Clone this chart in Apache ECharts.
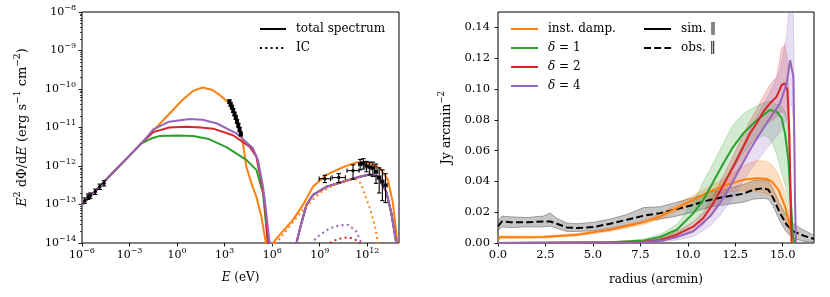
<!DOCTYPE html>
<html><head><meta charset="utf-8">
<script src="https://cdn.jsdelivr.net/npm/echarts@6/dist/echarts.min.js"></script>
<style>html,body{margin:0;padding:0;background:#fff}#c{width:830px;height:297px}</style>
</head><body><div id="c"></div>
<script>
// ===================== LEFT PANEL DATA (log10 of E [eV] and of E^2 dPhi/dE) =====================
const xMajorExp = [-6, -3, 0, 3, 6, 9, 12];
const yMajorExp = [-14, -13, -12, -11, -10, -9, -8];
const yMinorMant = [2, 3, 4, 5, 6, 7, 8, 9];

// shared low-energy synchrotron power law
const sharedLogE = [-6, -5, -4, -3, -2.25];
const sharedLogF = [-13.01, -12.58, -12.15, -11.73, -11.41];

const orangeSynLogE = [-1.5, -0.5, 0.3, 1.0, 1.6, 2.2, 2.7, 3.3, 3.7, 4.06, 4.2, 4.37, 4.69, 5.0, 5.32, 5.6, 5.8];
const orangeSynLogF = [-11.08, -10.65, -10.3, -10.05, -9.96, -10.02, -10.16, -10.37, -10.7, -11.19, -11.55, -12.02, -12.45, -12.8, -13.32, -14.0, -15];
const greenSynLogE = [-1.6, -1.1, 0, 1, 2, 3.11, 4.37, 5.0, 5.42, 5.73, 5.85];
const greenSynLogF = [-11.28, -11.22, -11.21, -11.22, -11.3, -11.51, -11.84, -12.1, -12.71, -14.0, -15];
const redSynLogE = [-1.5, -0.5, 0.6, 1.5, 2.27, 3.53, 4.58, 5.0, 5.21, 5.52, 5.73, 5.85];
const redSynLogF = [-11.12, -11.0, -10.98, -11.0, -11.03, -11.2, -11.5, -11.76, -12.19, -12.9, -14.0, -15];
const purpleSynLogE = [-1.5, -0.5, 0.8, 1.6, 2.48, 3.74, 4.79, 5.1, 5.42, 5.63, 5.84, 5.95];
const purpleSynLogF = [-11.05, -10.85, -10.78, -10.8, -10.89, -11.15, -11.54, -11.84, -12.54, -13.24, -14.0, -15];

// gamma-ray bump (total spectrum)
const orangeGamLogE = [5.9, 6.05, 6.47, 7.31, 7.94, 8.57, 9.42, 10.47, 11.31, 11.73, 12.15, 12.78, 13.3, 13.62, 13.83, 14.0];
const orangeGamLogF = [-15, -14, -13.79, -13.4, -13.01, -12.54, -12.23, -12.03, -11.91, -11.9, -11.92, -12.05, -12.36, -12.97, -13.75, -14.5];
const deltaGamLogE = [7.4, 7.53, 7.84, 8.16, 8.57, 9.42, 10.47, 11.52, 12.15, 12.68, 13.2, 13.52, 13.83, 14.0];
const deltaGamLogF = [-15, -14, -13.49, -13.01, -12.75, -12.54, -12.41, -12.28, -12.22, -12.28, -12.67, -13.23, -14.0, -14.6];

// IC components (dotted)
const orangeICLogE = [6.1, 6.26, 7.0, 8.0, 9.0, 10.0, 10.8, 11.3, 11.6, 11.9, 12.2, 12.5, 12.68, 12.8];
const orangeICLogF = [-15, -14, -13.62, -13.1, -12.7, -12.47, -12.36, -12.35, -12.45, -12.8, -13.15, -13.6, -14, -14.5];
const purpleICLogE = [8.3, 8.47, 9.0, 9.63, 10.26, 10.8, 11.31, 11.63, 11.8];
const purpleICLogF = [-14.3, -14, -13.79, -13.62, -13.54, -13.53, -13.7, -14, -14.3];
const redICLogE = [9.2, 9.43, 9.9, 10.4, 10.8, 11.2, 11.54, 11.7];
const redICLogF = [-14.2, -14.05, -13.94, -13.87, -13.85, -13.9, -14.02, -14.2];

// observed points (log10), errors in dex
const radioLogE = [-5.83, -5.62, -5.47, -5.16, -4.88, -4.61];
const radioLogF = [-12.9, -12.8, -12.77, -12.67, -12.54, -12.45];
const radioErr = [0.07, 0.07, 0.07, 0.07, 0.07, 0.07];
const xrayLogE = [3.30, 3.38, 3.46, 3.54, 3.62, 3.70, 3.78, 3.86, 3.94, 4.02];
const xrayLogF = [-10.33, -10.40, -10.47, -10.56, -10.65, -10.74, -10.84, -10.94, -11.05, -11.17];
const xrayErr = [0.05, 0.05, 0.05, 0.05, 0.05, 0.05, 0.05, 0.05, 0.05, 0.05];
const gamLogE = [9.32, 10.2, 11.1, 11.55, 11.75, 11.95, 12.15, 12.35, 12.55, 12.75, 12.95, 13.15];
const gamLogF = [-12.33, -12.3, -12.12, -11.95, -11.93, -12.0, -12.03, -12.05, -12.15, -12.3, -12.4, -12.5];
const gamErrLo = [0.1, 0.13, 0.22, 0.15, 0.15, 0.15, 0.2, 0.22, 0.3, 0.4, 0.5, 0.45];
const gamErrHi = [0.09, 0.1, 0.15, 0.12, 0.12, 0.12, 0.13, 0.15, 0.2, 0.25, 0.3, 0.3];
const gamErrE = [0.36, 0.42, 0.38, 0.1, 0.1, 0.1, 0.1, 0.1, 0.1, 0.1, 0.1, 0.1];

// ===================== RIGHT PANEL DATA =====================
const rTicks = [0, 2.5, 5, 7.5, 10, 12.5, 15];
const vTicks = [0, 0.02, 0.04, 0.06, 0.08, 0.10, 0.12, 0.14];

const obsR = [0, 0.21, 0.65, 1.53, 2.4, 2.75, 3.1, 3.63, 4.16, 5.04, 5.91, 6.79, 7.67, 8.54, 9.42, 10.3, 11.18, 12.05, 12.93, 13.46, 13.98, 14.25, 14.5, 14.86, 15.21, 15.56, 16.09, 16.65];
const obsV = [0.0108, 0.014, 0.0134, 0.0134, 0.014, 0.014, 0.0125, 0.0101, 0.0097, 0.0104, 0.0125, 0.0151, 0.0177, 0.0194, 0.022, 0.0248, 0.0281, 0.0302, 0.032, 0.0346, 0.0356, 0.0346, 0.0292, 0.0194, 0.0119, 0.0076, 0.0048, 0.0026];
const obsLo = [0.008, 0.0105, 0.01, 0.0105, 0.0105, 0.011, 0.0095, 0.0075, 0.0075, 0.008, 0.0095, 0.0115, 0.014, 0.0155, 0.0175, 0.02, 0.0235, 0.025, 0.0265, 0.0285, 0.029, 0.0285, 0.024, 0.014, 0.007, 0.003, 0.0012, 0.0005];
const obsHi = [0.014, 0.0175, 0.017, 0.0165, 0.0175, 0.0195, 0.016, 0.013, 0.0125, 0.0135, 0.0155, 0.0185, 0.023, 0.0235, 0.0265, 0.0295, 0.033, 0.035, 0.038, 0.0405, 0.041, 0.0405, 0.035, 0.025, 0.0175, 0.0125, 0.0085, 0.005];

const instR = [0, 0.12, 1.0, 2.4, 4.16, 5.91, 7.67, 8.54, 9.42, 10.3, 11.18, 12.05, 12.93, 13.63, 14.16, 14.42, 14.77, 15.12, 15.39, 15.56, 15.65];
const instV = [0.002, 0.0039, 0.0037, 0.0039, 0.0054, 0.0086, 0.0134, 0.0173, 0.0227, 0.0281, 0.0335, 0.0378, 0.041, 0.0421, 0.0417, 0.04, 0.0346, 0.0238, 0.0108, 0.0022, 0];
const instLo = [0.0015, 0.0032, 0.003, 0.0032, 0.0046, 0.0076, 0.012, 0.0155, 0.0205, 0.025, 0.03, 0.033, 0.034, 0.0335, 0.032, 0.03, 0.025, 0.016, 0.006, 0.001, 0];
const instHi = [0.0025, 0.0046, 0.0044, 0.0046, 0.0062, 0.0096, 0.0148, 0.019, 0.025, 0.031, 0.037, 0.043, 0.05, 0.0535, 0.053, 0.051, 0.045, 0.033, 0.016, 0.004, 0];

const d1R = [0, 6.0, 7.67, 8.54, 9.42, 10.3, 10.82, 11.35, 11.88, 12.4, 12.93, 13.46, 13.98, 14.33, 14.68, 14.95, 15.12, 15.3, 15.42, 15.53, 15.6];
const d1V = [0, 0.0005, 0.0017, 0.0039, 0.0086, 0.0194, 0.0281, 0.04, 0.0518, 0.0626, 0.0713, 0.0778, 0.0832, 0.0864, 0.0853, 0.081, 0.0713, 0.054, 0.0281, 0.0065, 0];
const d1Lo = [0, 0.0003, 0.0012, 0.003, 0.006, 0.013, 0.019, 0.028, 0.038, 0.048, 0.058, 0.066, 0.07, 0.068, 0.058, 0.045, 0.038, 0.028, 0.014, 0.003, 0];
const d1Hi = [0, 0.0008, 0.0025, 0.0055, 0.012, 0.027, 0.04, 0.052, 0.065, 0.077, 0.084, 0.088, 0.091, 0.092, 0.09, 0.089, 0.085, 0.072, 0.045, 0.012, 0];

const d2R = [0, 7.5, 8.54, 9.42, 10.3, 10.82, 11.35, 11.88, 12.4, 12.93, 13.28, 13.63, 13.98, 14.33, 14.68, 14.95, 15.12, 15.25, 15.35, 15.42, 15.47];
const d2V = [0, 0.0005, 0.002, 0.0054, 0.0108, 0.0162, 0.0259, 0.0378, 0.0497, 0.0626, 0.0713, 0.0778, 0.0853, 0.0907, 0.095, 0.1026, 0.1037, 0.0994, 0.0713, 0.0281, 0];
const d2Lo = [0, 0.0002, 0.001, 0.0035, 0.0078, 0.012, 0.0209, 0.0318, 0.0427, 0.0546, 0.0633, 0.0688, 0.0753, 0.0787, 0.082, 0.0856, 0.0837, 0.0794, 0.0563, 0.02, 0];
const d2Hi = [0, 0.0008, 0.003, 0.0074, 0.0138, 0.0202, 0.0309, 0.0438, 0.0567, 0.0706, 0.0793, 0.0868, 0.0953, 0.1027, 0.108, 0.1266, 0.1287, 0.1194, 0.0863, 0.0361, 0];

const d4R = [0, 7.5, 8.72, 9.42, 10.3, 11.18, 11.7, 12.23, 12.75, 13.28, 13.81, 14.33, 14.86, 15.21, 15.39, 15.47, 15.56, 15.61, 15.65, 15.7];
const d4V = [0, 0.0003, 0.0017, 0.0039, 0.0076, 0.0173, 0.0259, 0.0367, 0.0486, 0.0605, 0.0713, 0.081, 0.0907, 0.1037, 0.1188, 0.12, 0.108, 0.0713, 0.028, 0];
const d4Lo = [0, 0.0001, 0.0008, 0.002, 0.004, 0.011, 0.018, 0.027, 0.037, 0.047, 0.056, 0.064, 0.072, 0.08, 0.09, 0.09, 0.08, 0.05, 0.015, 0];
const d4Hi = [0, 0.0006, 0.003, 0.006, 0.011, 0.024, 0.034, 0.047, 0.06, 0.074, 0.086, 0.098, 0.112, 0.135, 0.16, 0.165, 0.15, 0.1, 0.04, 0];

// ===================== BUILD =====================
const FONT = 'DejaVu Serif';
const COL = {orange: '#ff7f0e', green: '#2ca02c', red: '#d62728', purple: '#9467bd'};
const p10 = e => Math.pow(10, e);
const P = (le, lf) => le.map((e, i) => [p10(e), p10(lf[i])]);
const XY = (r, v) => r.map((x, i) => [x, v[i]]);
const xMajor = xMajorExp.map(p10);
const yMajor = yMajorExp.map(p10);
const yMinor = [];
yMajorExp.slice(0, -1).forEach(e => yMinorMant.forEach(m => yMinor.push(m * p10(e))));

function powFmt(v) {
  const e = Math.round(Math.log10(v));
  return '{b|10}{s|' + (e < 0 ? '\u2212' + (-e) : String(e)) + '}';
}
const powRich = {
  b: {fontFamily: FONT, fontSize: 11, color: '#000', lineHeight: 17},
  s: {fontFamily: FONT, fontSize: 8, color: '#000', lineHeight: 7, verticalAlign: 'top'}
};
const tickStyle = {color: '#000', width: 0.9};
const nameRich = (fs) => ({
  t: {fontFamily: FONT, fontSize: fs, color: '#000', lineHeight: fs + 6},
  i: {fontFamily: FONT, fontSize: fs, fontStyle: 'italic', color: '#000', lineHeight: fs + 6},
  s: {fontFamily: FONT, fontSize: fs * 0.7, color: '#000', lineHeight: fs * 0.55, verticalAlign: 'top'}
});

function line(name, data, color, xi, yi, extra) {
  return Object.assign({
    type: 'line', name, data, xAxisIndex: xi, yAxisIndex: yi, symbol: 'none', showSymbol: false, smooth: false,
    clip: true, lineStyle: {color, width: 2}, itemStyle: {color}, silent: true, z: 3
  }, extra || {});
}
function lineL(name, le, lf, color, dotted) {
  return line(name, P(le, lf), color, 0, 0, dotted ? {lineStyle: {color, width: 2, type: [2, 3.3]}} : null);
}

function errData(le, lf, eLo, eHi, eE) {
  return le.map((e, i) => [p10(e), p10(lf[i]), p10(e - (eE ? eE[i] : 0)), p10(e + (eE ? eE[i] : 0)), p10(lf[i] - eLo[i]), p10(lf[i] + eHi[i])]);
}
function errSeries(data, marker) {
  return {
    type: 'custom', xAxisIndex: 0, yAxisIndex: 0, z: 6, silent: true,
    dimensions: ['x', 'y', 'xl', 'xh', 'yl', 'yh'], encode: {x: 0, y: 1},
    data,
    renderItem(params, api) {
      const x = api.value(0), y = api.value(1);
      const c = api.coord([x, y]);
      const st = {stroke: '#000', lineWidth: 1.1};
      const cap = 2.2;
      const ch = [];
      const a = api.coord([x, api.value(4)]), b = api.coord([x, api.value(5)]);
      ch.push({type: 'line', shape: {x1: c[0], y1: a[1], x2: c[0], y2: b[1]}, style: st});
      ch.push({type: 'line', shape: {x1: c[0] - cap, y1: a[1], x2: c[0] + cap, y2: a[1]}, style: st});
      ch.push({type: 'line', shape: {x1: c[0] - cap, y1: b[1], x2: c[0] + cap, y2: b[1]}, style: st});
      if (api.value(2) !== api.value(3)) {
        const l = api.coord([api.value(2), y]), h = api.coord([api.value(3), y]);
        ch.push({type: 'line', shape: {x1: l[0], y1: c[1], x2: h[0], y2: c[1]}, style: st});
        ch.push({type: 'line', shape: {x1: l[0], y1: c[1] - cap, x2: l[0], y2: c[1] + cap}, style: st});
        ch.push({type: 'line', shape: {x1: h[0], y1: c[1] - cap, x2: h[0], y2: c[1] + cap}, style: st});
      }
      if (marker === 'square') ch.push({type: 'rect', shape: {x: c[0] - 2, y: c[1] - 2, width: 4, height: 4}, style: {fill: '#000'}});
      else ch.push({type: 'circle', shape: {cx: c[0], cy: c[1], r: 1.7}, style: {fill: '#000'}});
      return {type: 'group', children: ch};
    }
  };
}

function band(r, lo, hi, fill, stroke, z) {
  return {
    type: 'custom', xAxisIndex: 1, yAxisIndex: 2, z: z || 1, silent: true, clip: true,
    data: [[r[0], lo[0]]], encode: {x: 0, y: 1},
    renderItem(params, api) {
      const pts = [];
      for (let i = 0; i < r.length; i++) pts.push(api.coord([r[i], hi[i]]));
      for (let i = r.length - 1; i >= 0; i--) pts.push(api.coord([r[i], lo[i]]));
      const cs = params.coordSys;
      return {
        type: 'polygon', shape: {points: pts},
        clipPath: {type: 'rect', shape: {x: cs.x, y: cs.y, width: cs.width, height: cs.height}},
        style: {fill, stroke, lineWidth: 0.8}
      };
    }
  };
}

const chart = echarts.init(document.getElementById('c'), null, {renderer: 'canvas'});
const legText = {fontFamily: FONT, fontSize: 12, color: '#000', padding: [0, 0, 0, 5],
  rich: {i: {fontFamily: FONT, fontSize: 12, fontStyle: 'italic', color: '#000'}, n: {fontFamily: FONT, fontSize: 12, color: '#000'}}};
const legFmt = n => n.startsWith('\u03b4') ? '{i|\u03b4}{n|' + n.slice(1) + '}' : n;
const legCommon = {orient: 'vertical', padding: 0, itemHeight: 12, itemGap: 7, selectedMode: false,
  textStyle: legText, itemStyle: {opacity: 0, borderWidth: 0}};

const option = {
  animation: false,
  backgroundColor: '#fff',
  grid: [
    {left: 82, right: 431, top: 12, bottom: 54, show: true, borderColor: '#000', borderWidth: 1, backgroundColor: 'transparent'},
    {left: 498, right: 16, top: 12, bottom: 54, show: true, borderColor: '#000', borderWidth: 1, backgroundColor: 'transparent'}
  ],
  xAxis: [
    {type: 'log', logBase: 10, gridIndex: 0, min: 1e-6, max: 1e14, interval: 3,
      axisLine: {show: false}, splitLine: {show: false},
      axisTick: {show: true, inside: false, length: 3.5, lineStyle: tickStyle, customValues: xMajor},
      axisLabel: {customValues: xMajor, formatter: powFmt, margin: 4, rich: powRich},
      name: '{i|E}{t| (eV)}', nameLocation: 'middle', nameGap: 26,
      nameTextStyle: {fontFamily: FONT, fontSize: 12, color: '#000', rich: nameRich(12)}},
    {type: 'value', gridIndex: 1, min: 0, max: 16.65, interval: 2.5,
      axisLine: {show: false}, splitLine: {show: false},
      axisTick: {show: true, inside: false, length: 3.5, lineStyle: tickStyle, customValues: rTicks},
      axisLabel: {customValues: rTicks, formatter: v => v.toFixed(1), margin: 6,
        fontFamily: FONT, fontSize: 11.5, color: '#000'},
      name: 'radius (arcmin)', nameLocation: 'middle', nameGap: 31,
      nameTextStyle: {fontFamily: FONT, fontSize: 12, color: '#000'}}
  ],
  yAxis: [
    {type: 'log', logBase: 10, gridIndex: 0, min: 1e-14, max: 1e-8, interval: 1,
      axisLine: {show: false}, splitLine: {show: false},
      axisTick: {show: true, inside: false, length: 3.5, lineStyle: tickStyle, customValues: yMajor},
      axisLabel: {customValues: yMajor, formatter: powFmt, margin: 6, rich: powRich},
      name: '{i|E}{s|2}{t| d\u03a6/d}{i|E}{t| (erg s}{s|\u22121}{t| cm}{s|\u22122}{t|)}',
      nameLocation: 'middle', nameGap: 50, nameRotate: 90,
      nameTextStyle: {fontFamily: FONT, fontSize: 13, color: '#000', rich: nameRich(13)}},
    {type: 'log', logBase: 10, gridIndex: 0, min: 1e-14, max: 1e-8, interval: 1, position: 'left', offset: 0,
      axisLine: {show: false}, splitLine: {show: false}, axisLabel: {show: false},
      axisTick: {show: true, inside: false, length: 2, lineStyle: {color: '#000', width: 0.7}, customValues: yMinor}},
    {type: 'value', gridIndex: 1, min: 0, max: 0.15, interval: 0.02,
      axisLine: {show: false}, splitLine: {show: false},
      axisTick: {show: true, inside: false, length: 3.5, lineStyle: tickStyle, customValues: vTicks},
      axisLabel: {customValues: vTicks, formatter: v => v.toFixed(2), margin: 8,
        fontFamily: FONT, fontSize: 11.5, color: '#000'},
      name: '{t|Jy arcmin}{s|\u22122}', nameLocation: 'middle', nameGap: 42, nameRotate: 90,
      nameTextStyle: {fontFamily: FONT, fontSize: 12.5, color: '#000', rich: nameRich(12.5)}}
  ],
  legend: [
    Object.assign({data: ['total spectrum', 'IC'], left: 259, top: 23, itemWidth: 26}, legCommon),
    Object.assign({data: ['inst. damp.', '\u03b4 = 1', '\u03b4 = 2', '\u03b4 = 4'], left: 510, top: 23, itemWidth: 27, formatter: legFmt}, legCommon),
    Object.assign({data: ['sim. \u2016', 'obs. \u2016'], left: 643, top: 23, itemWidth: 27}, legCommon)
  ],
  series: [
    // ---- left panel ----
    lineL('o-syn', sharedLogE.concat(orangeSynLogE), sharedLogF.concat(orangeSynLogF), COL.orange),
    lineL('o-gam', orangeGamLogE, orangeGamLogF, COL.orange),
    lineL('g-syn', sharedLogE.concat(greenSynLogE), sharedLogF.concat(greenSynLogF), COL.green),
    lineL('g-gam', deltaGamLogE, deltaGamLogF, COL.green),
    lineL('r-syn', sharedLogE.concat(redSynLogE), sharedLogF.concat(redSynLogF), COL.red),
    lineL('r-gam', deltaGamLogE, deltaGamLogF, COL.red),
    lineL('p-syn', sharedLogE.concat(purpleSynLogE), sharedLogF.concat(purpleSynLogF), COL.purple),
    lineL('p-gam', deltaGamLogE, deltaGamLogF, COL.purple),
    lineL('o-ic', orangeICLogE, orangeICLogF, COL.orange, true),
    lineL('p-ic', purpleICLogE, purpleICLogF, COL.purple, true),
    lineL('r-ic', redICLogE, redICLogF, COL.red, true),
    errSeries(errData(radioLogE, radioLogF, radioErr, radioErr, null), 'circle'),
    errSeries(errData(xrayLogE, xrayLogF, xrayErr, xrayErr, null), 'square'),
    errSeries(errData(gamLogE, gamLogF, gamErrLo, gamErrHi, gamErrE), 'circle'),
    line('total spectrum', [], '#000', 0, 0),
    line('IC', [], '#000', 0, 0, {lineStyle: {color: '#000', width: 2, type: [2, 3.3]}}),
    // ---- right panel ----
    band(obsR, obsLo, obsHi, 'rgba(128,128,128,0.45)', 'rgba(100,100,100,0.7)', 1),
    band(instR, instLo, instHi, 'rgba(255,127,14,0.25)', 'rgba(255,127,14,0.35)', 1),
    band(d1R, d1Lo, d1Hi, 'rgba(44,160,44,0.22)', 'rgba(44,160,44,0.3)', 1),
    band(d2R, d2Lo, d2Hi, 'rgba(214,39,40,0.22)', 'rgba(214,39,40,0.3)', 1),
    band(d4R, d4Lo, d4Hi, 'rgba(148,103,189,0.22)', 'rgba(148,103,189,0.3)', 1),
    line('obs. \u2016', XY(obsR, obsV), '#000', 1, 2, {lineStyle: {color: '#000', width: 2, type: [7, 3.2]}}),
    line('inst. damp.', XY(instR, instV), COL.orange, 1, 2),
    line('\u03b4 = 1', XY(d1R, d1V), COL.green, 1, 2),
    line('\u03b4 = 2', XY(d2R, d2V), COL.red, 1, 2),
    line('\u03b4 = 4', XY(d4R, d4V), COL.purple, 1, 2),
    line('sim. \u2016', [], '#000', 1, 2)
  ]
};
chart.setOption(option);
</script>
</body></html>
